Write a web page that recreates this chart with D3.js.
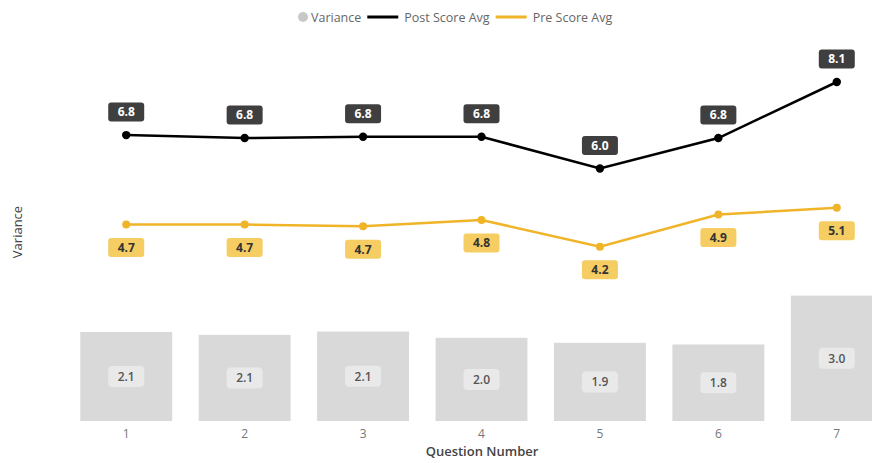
<!DOCTYPE html>
<html>
<head>
<meta charset="utf-8">
<script src="https://cdn.jsdelivr.net/npm/d3@7"></script>
<style>
    body { margin: 0; background: #fff; }
    svg text { font-family: "Open Sans", "Noto Sans", sans-serif; }
</style>
</head>
<body>
<div id="chart"></div>
<script>
/*
    Chart data
*/
var categories = ["1", "2", "3", "4", "5", "6", "7"];
var variance = [2.13, 2.06, 2.14, 1.99, 1.87, 1.83, 3.00];
var postAvg = [6.84, 6.77, 6.80, 6.80, 6.04, 6.77, 8.11];
var preAvg = [4.70, 4.70, 4.66, 4.81, 4.17, 4.94, 5.10];
var legendNames = ["Variance", "Post Score Avg", "Pre Score Avg"];

/*
    Dimensions
*/
var realW = 872, realH = 463;
var baseY = 421;

var svg = d3.select("#chart").append("svg")
    .attr("width", realW)
    .attr("height", realH);

var x = d3.scaleBand()
    .domain(categories)
    .range([67, 896])
    .paddingInner(0.224)
    .paddingOuter(0.112);

var y = d3.scaleLinear()
    .domain([0, 10])
    .range([baseY, 3]);

function cx(i) { return x(categories[i]) + x.bandwidth() / 2; }

/*
    Variance bars
*/
svg.append("g").selectAll("rect")
    .data(variance)
    .enter()
    .append("rect")
    .attr("x", function (d, i) { return x(categories[i]); })
    .attr("y", function (d) { return y(d); })
    .attr("width", x.bandwidth())
    .attr("height", function (d) { return baseY - y(d); })
    .style("fill", "#d9d9d9");

var barLabels = svg.append("g").selectAll("g")
    .data(variance)
    .enter()
    .append("g")
    .attr("transform", function (d, i) {
        return "translate(" + cx(i) + "," + (y(d) + baseY) / 2 + ")";
    });
barLabels.append("rect")
    .attr("x", -18).attr("y", -10.5)
    .attr("width", 36).attr("height", 21)
    .attr("rx", 4)
    .style("fill", "#e9e9e9");
barLabels.append("text")
    .attr("text-anchor", "middle")
    .attr("dy", "0.36em")
    .style("font-size", "12px")
    .style("font-weight", 600)
    .style("fill", "#555")
    .text(function (d) { return d.toFixed(1); });

/*
    Lines
*/
var line = d3.line()
    .x(function (d, i) { return cx(i); })
    .y(function (d) { return y(d); });

function drawSeries(values, color, r) {
    svg.append("path")
        .datum(values)
        .attr("d", line)
        .style("fill", "none")
        .style("stroke", color)
        .style("stroke-width", 2.5);
    svg.append("g").selectAll("circle")
        .data(values)
        .enter()
        .append("circle")
        .attr("cx", function (d, i) { return cx(i); })
        .attr("cy", function (d) { return y(d); })
        .attr("r", r)
        .style("fill", color);
}
drawSeries(postAvg, "#000", 4.2);
drawSeries(preAvg, "#f0b429", 4);

function drawLabels(values, offset, boxFill, textFill) {
    var g = svg.append("g").selectAll("g")
        .data(values)
        .enter()
        .append("g")
        .attr("transform", function (d, i) {
            return "translate(" + cx(i) + "," + (y(d) + offset) + ")";
        });
    g.append("rect")
        .attr("x", -18).attr("y", -9.5)
        .attr("width", 36).attr("height", 19)
        .attr("rx", 3)
        .style("fill", boxFill);
    g.append("text")
        .attr("text-anchor", "middle")
        .attr("dy", "0.36em")
        .style("font-size", "12px")
        .style("font-weight", 700)
        .style("fill", textFill)
        .text(function (d) { return d.toFixed(1); });
}
drawLabels(postAvg, -23, "#3f3f3f", "#fff");
drawLabels(preAvg, 23, "#f5cd62", "#333");

/*
    X axis, ticks only
*/
var xAxis = d3.axisBottom(x).tickSize(0).tickPadding(8);
var ax = svg.append("g")
    .attr("transform", "translate(0," + baseY + ")")
    .call(xAxis);
ax.select(".domain").remove();
ax.selectAll("text")
    .style("font-size", "12px")
    .style("fill", "#777")
    .style("font-family", "\"Open Sans\", sans-serif");

svg.append("text")
    .attr("x", 482)
    .attr("y", 456)
    .attr("text-anchor", "middle")
    .style("font-size", "13px")
    .style("font-weight", 600)
    .style("fill", "#444")
    .text("Question Number");

svg.append("text")
    .attr("transform", "translate(22,232) rotate(-90)")
    .attr("text-anchor", "middle")
    .style("font-size", "13px")
    .style("fill", "#444")
    .text("Variance");

/*
    Legend
*/
var legend = svg.append("g").attr("transform", "translate(0,17)");
var lx = 298;
legendNames.forEach(function (name, i) {
    if (i == 0) {
        legend.append("circle")
            .attr("cx", lx + 5).attr("cy", 0).attr("r", 5)
            .style("fill", "#c8c8c8");
        lx += 13;
    } else {
        legend.append("line")
            .attr("x1", lx).attr("x2", lx + 31)
            .attr("y1", 0).attr("y2", 0)
            .style("stroke", i == 1 ? "#000" : "#f0b429")
            .style("stroke-width", 3);
        lx += 37;
    }
    var t = legend.append("text")
        .attr("x", lx)
        .attr("dy", "0.36em")
        .style("font-size", "12.5px")
        .style("fill", "#666")
        .text(name);
    lx += t.node().getComputedTextLength() + 6;
});
</script>
</body>
</html>
